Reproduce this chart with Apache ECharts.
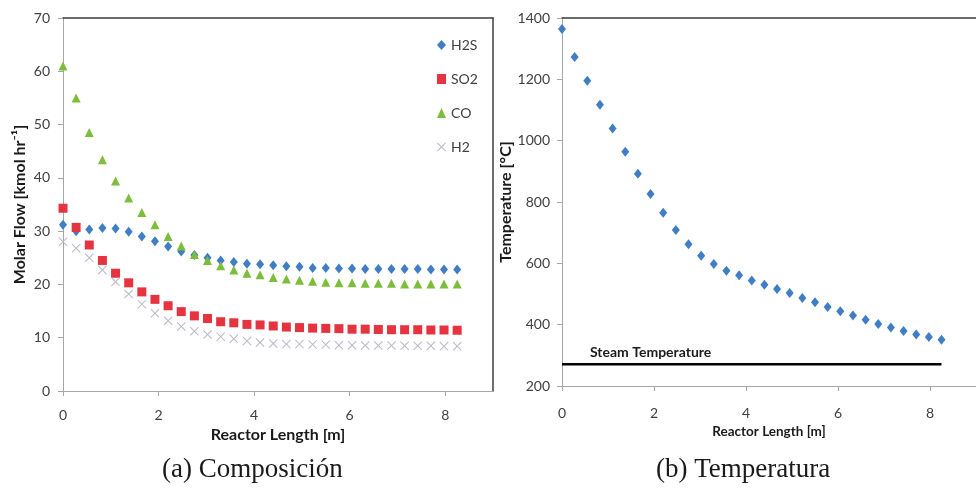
<!DOCTYPE html>
<html>
<head>
<meta charset="utf-8">
<script src="https://cdn.jsdelivr.net/npm/echarts@6/dist/echarts.min.js"></script>
<style>
  html, body { margin: 0; padding: 0; background: #ffffff; }
  #chart { width: 976px; height: 490px; }
</style>
</head>
<body>
<div id="chart"></div>
<script>
// Position along the reactor [m]
const lengthM = [0, 0.275, 0.55, 0.825, 1.1, 1.375, 1.65, 1.925, 2.2, 2.475, 2.75, 3.025, 3.3, 3.575, 3.85,
  4.125, 4.4, 4.675, 4.95, 5.225, 5.5, 5.775, 6.05, 6.325, 6.6, 6.875, 7.15, 7.425, 7.7, 7.975, 8.25];

// Molar flows [kmol/hr]
const h2s = [31.2, 30.0, 30.3, 30.6, 30.5, 29.9, 29.0, 28.1, 27.1, 26.2, 25.5, 25.0, 24.5, 24.2, 23.9,
  23.8, 23.6, 23.4, 23.3, 23.1, 23.1, 23.0, 23.0, 22.9, 22.9, 22.9, 22.9, 22.9, 22.8, 22.8, 22.8];
const so2 = [34.3, 30.7, 27.4, 24.5, 22.1, 20.3, 18.6, 17.2, 16.0, 14.9, 14.1, 13.6, 13.0, 12.8, 12.5,
  12.4, 12.2, 12.0, 11.9, 11.8, 11.75, 11.7, 11.6, 11.6, 11.55, 11.5, 11.5, 11.5, 11.45, 11.45, 11.4];
const co = [61.0, 55.0, 48.5, 43.4, 39.4, 36.2, 33.5, 31.2, 29.0, 27.2, 25.6, 24.5, 23.5, 22.7, 22.1,
  21.8, 21.3, 21.0, 20.8, 20.6, 20.4, 20.3, 20.3, 20.2, 20.2, 20.2, 20.1, 20.1, 20.1, 20.1, 20.1];
const h2 = [28.0, 26.8, 25.0, 22.7, 20.5, 18.2, 16.3, 14.6, 13.2, 12.1, 11.2, 10.6, 10.2, 9.8, 9.4,
  9.1, 8.9, 8.8, 8.8, 8.75, 8.7, 8.6, 8.6, 8.55, 8.55, 8.55, 8.5, 8.5, 8.5, 8.4, 8.4];

// Gas temperature [°C]
const temperature = [1364, 1273, 1195, 1117, 1040, 964, 892, 826, 765, 709, 662, 625, 598, 576, 561,
  544, 530, 516, 503, 487, 473, 458, 444, 430, 416, 402, 391, 379, 368, 360, 351];

// Steam side
const steamSpan = [0, 8.25];
const steamTemp = [271, 271];

// Axis ticks
const lengthTicks = [0, 2, 4, 6, 8];
const flowTicks = [0, 10, 20, 30, 40, 50, 60, 70];
const tempTicks = [200, 400, 600, 800, 1000, 1200, 1400];

const speciesNames = ['H2S', 'SO2', 'CO', 'H2'];

const pairs = (xs, ys) => xs.map((x, i) => [x, ys[i]]);

const labelFont = { fontFamily: 'Lato', fontSize: 14, color: '#404040' };
const titleFont = size => ({ fontFamily: 'Lato', fontSize: size, fontWeight: 'bold', color: '#1a1a1a' });
const axisGrey = '#a6a6a6';
const frameDark = '#3c3c3c';

const crossPath = 'path://M0,0.8L0.8,0L5,4.2L9.2,0L10,0.8L5.8,5L10,9.2L9.2,10L5,5.8L0.8,10L0,9.2L4.2,5Z';

function bottomAxis(grid, gap, margin, titleSize) {
  return {
    gridIndex: grid, type: 'value', position: 'bottom',
    min: lengthTicks[0], max: 9, interval: 2,
    name: 'Reactor Length [m]', nameLocation: 'middle', nameGap: gap, nameTextStyle: titleFont(titleSize),
    axisLine: { onZero: false, lineStyle: { color: axisGrey, width: 1 } },
    axisTick: { customValues: lengthTicks, length: 5, lineStyle: { color: axisGrey } },
    axisLabel: Object.assign({ customValues: lengthTicks, margin: margin }, labelFont),
    splitLine: { show: false }
  };
}
function frameAxisX(grid) {
  return {
    gridIndex: grid, type: 'value', position: 'top', min: 0, max: 9,
    axisLine: { onZero: false, lineStyle: { color: frameDark, width: 1.5 } },
    axisTick: { show: false }, axisLabel: { show: false }, splitLine: { show: false }
  };
}

const chart = echarts.init(document.getElementById('chart'), null, { renderer: 'canvas' });

chart.setOption({
  animation: false,
  backgroundColor: '#ffffff',
  grid: [
    { left: 63, top: 18, width: 430, height: 373 },
    { left: 562, top: 18, width: 420, height: 368 }
  ],
  legend: {
    data: speciesNames,
    orient: 'vertical',
    left: 432, top: 33,
    itemWidth: 9, itemHeight: 10, itemGap: 20,
    textStyle: { fontFamily: 'Lato', fontSize: 14, color: '#404040' }
  },
  xAxis: [
    bottomAxis(0, 27, 17, 16),
    frameAxisX(0),
    bottomAxis(1, 35, 20, 13.5),
    frameAxisX(1)
  ],
  yAxis: [
    {
      gridIndex: 0, type: 'value', position: 'left',
      min: flowTicks[0], max: flowTicks[flowTicks.length - 1], interval: 10,
      name: 'Molar Flow [kmol hr\u207B\u00B9]', nameLocation: 'middle', nameGap: 35, nameTextStyle: titleFont(16),
      axisLine: { show: true, onZero: false, lineStyle: { color: axisGrey } },
      axisTick: { show: true, length: 5, lineStyle: { color: axisGrey } },
      axisLabel: Object.assign({ margin: 13 }, labelFont),
      splitLine: { show: false }
    },
    {
      gridIndex: 0, type: 'value', position: 'right', min: 0, max: 70,
      axisLine: { show: true, onZero: false, lineStyle: { color: frameDark, width: 1.5 } },
      axisTick: { show: false }, axisLabel: { show: false }, splitLine: { show: false }
    },
    {
      gridIndex: 1, type: 'value', position: 'left',
      min: tempTicks[0], max: tempTicks[tempTicks.length - 1], interval: 200,
      name: 'Temperature [\u00B0C]', nameLocation: 'middle', nameGap: 46, nameTextStyle: titleFont(16),
      axisLine: { show: true, onZero: false, lineStyle: { color: axisGrey } },
      axisTick: { show: true, length: 5, lineStyle: { color: axisGrey } },
      axisLabel: Object.assign({ margin: 12, formatter: v => String(v) }, labelFont),
      splitLine: { show: false }
    }
  ],
  series: [
    {
      name: 'H2S', type: 'scatter', xAxisIndex: 0, yAxisIndex: 0,
      symbol: 'diamond', symbolSize: [8, 10],
      itemStyle: { color: '#3f7dc4', opacity: 1 },
      data: pairs(lengthM, h2s)
    },
    {
      name: 'SO2', type: 'scatter', xAxisIndex: 0, yAxisIndex: 0,
      symbol: 'rect', symbolSize: 9,
      itemStyle: { color: '#e5333f', opacity: 1 },
      data: pairs(lengthM, so2)
    },
    {
      name: 'CO', type: 'scatter', xAxisIndex: 0, yAxisIndex: 0,
      symbol: 'triangle', symbolSize: [9, 9],
      itemStyle: { color: '#7cbd3a', opacity: 1 },
      data: pairs(lengthM, co)
    },
    {
      name: 'H2', type: 'scatter', xAxisIndex: 0, yAxisIndex: 0,
      symbol: crossPath, symbolSize: 9,
      itemStyle: { color: '#b9b9c9', opacity: 1 },
      data: pairs(lengthM, h2)
    },
    {
      name: 'Temperature', type: 'scatter', xAxisIndex: 2, yAxisIndex: 2,
      symbol: 'diamond', symbolSize: [8, 10],
      itemStyle: { color: '#3f7dc4', opacity: 1 },
      data: pairs(lengthM, temperature)
    },
    {
      name: 'Steam Temperature', type: 'line', xAxisIndex: 2, yAxisIndex: 2,
      showSymbol: false, symbol: 'none',
      lineStyle: { color: '#000000', width: 2.5 },
      data: pairs(steamSpan, steamTemp)
    }
  ],
  graphic: [
    {
      type: 'text', left: 590, top: 345,
      style: { text: 'Steam Temperature', fontFamily: 'Lato', fontSize: 14, fontWeight: 'bold', fill: '#1a1a1a' }
    },
    {
      type: 'text', left: 162, top: 456,
      style: { text: '(a) Composición', fontFamily: 'Liberation Serif', fontSize: 27, fill: '#1a1a1a' }
    },
    {
      type: 'text', left: 656, top: 456,
      style: { text: '(b) Temperatura', fontFamily: 'Liberation Serif', fontSize: 27, fill: '#1a1a1a' }
    }
  ]
});
</script>
</body>
</html>
